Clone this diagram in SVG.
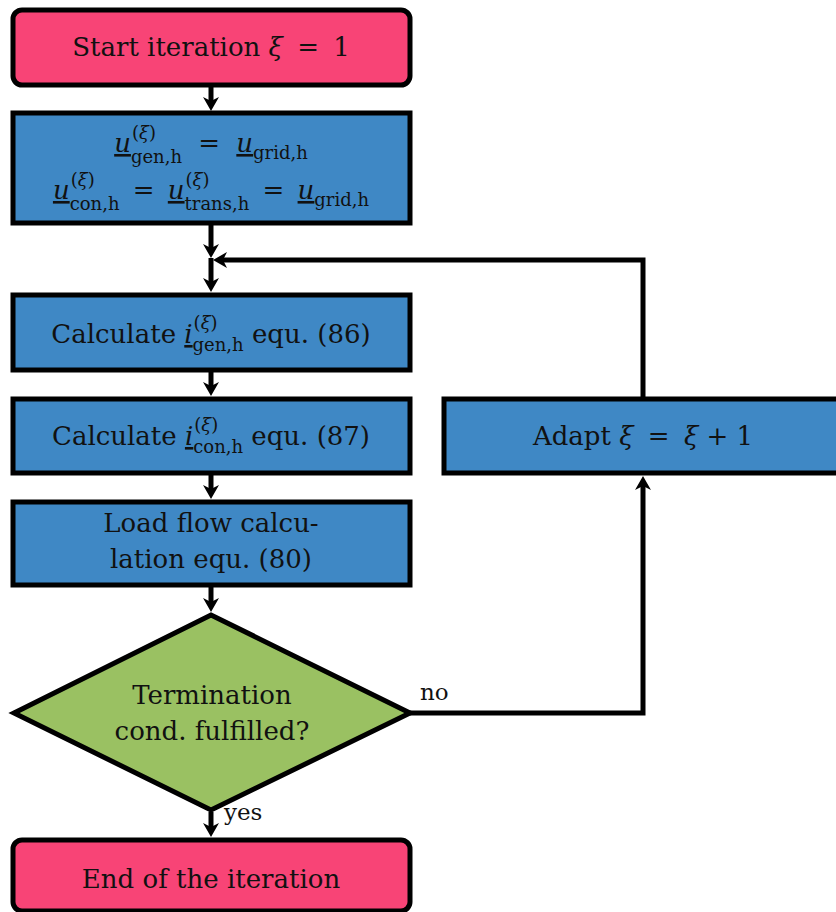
<svg xmlns="http://www.w3.org/2000/svg" width="836" height="912" viewBox="0 0 836 912">
<defs>
<marker id="ah" markerUnits="userSpaceOnUse" viewBox="0 0 14 16" refX="8" refY="8" markerWidth="14" markerHeight="16" orient="auto">
<path d="M0,0 L14,8 L0,16 L4,8 z" fill="#000"/>
</marker>
<style>
.t{font-family:"DejaVu Serif","Liberation Serif",serif;font-size:26px;fill:#111;text-anchor:middle}
.s{font-size:18px}
.m{font-style:italic}
.u{font-style:italic;text-decoration:underline}
.box{stroke:#000;stroke-width:5}
.pink{fill:#F84476}
.blue{fill:#3F88C5}
.green{fill:#9AC162}
.c{fill:none;stroke:#000;stroke-width:5;marker-end:url(#ah)}
.lbl{font-family:"DejaVu Serif","Liberation Serif",serif;font-size:23px;fill:#111}
</style>
</defs>
<rect width="836" height="912" fill="#fff"/>
<g id="connectors">
<path class="c" d="M211,85 V105"/>
<path class="c" d="M211,223 V252"/>
<path class="c" d="M211,258 V286"/>
<path class="c" d="M643,399 V260 H219"/>
<path class="c" d="M211,370 V390"/>
<path class="c" d="M211,473 V493"/>
<path class="c" d="M211,585 V606"/>
<path class="c" d="M410,713 H643 V482"/>
<path class="c" d="M211,812 V831"/>
<text class="lbl" x="420" y="700">no</text>
<text class="lbl" x="224" y="820">yes</text>
</g>
<g id="start">
<rect class="box pink" x="13" y="10" width="397" height="75" rx="9"/>
<text class="t" x="211" y="56">Start iteration <tspan class="m">ξ</tspan><tspan dx="6"> = </tspan><tspan dx="6">1</tspan></text>
</g>
<g id="init">
<rect class="box blue" x="13" y="113" width="397" height="110"/>
<text class="t" x="211" y="152"><tspan class="u">u</tspan><tspan class="s" dx="1" dy="-13">(<tspan class="m">ξ</tspan>)</tspan><tspan class="s" dx="-25" dy="24">gen,h</tspan><tspan dx="8" dy="-11"> = </tspan><tspan dx="8" class="u">u</tspan><tspan class="s" dy="7">grid,h</tspan></text>
<text class="t" x="211" y="199"><tspan class="u">u</tspan><tspan class="s" dx="1" dy="-13">(<tspan class="m">ξ</tspan>)</tspan><tspan class="s" dx="-25" dy="24">con,h</tspan><tspan dx="5" dy="-11"> = </tspan><tspan dx="5" class="u">u</tspan><tspan class="s" dx="1" dy="-13">(<tspan class="m">ξ</tspan>)</tspan><tspan class="s" dx="-25" dy="24">trans,h</tspan><tspan dx="5" dy="-11"> = </tspan><tspan dx="5" class="u">u</tspan><tspan class="s" dy="7">grid,h</tspan></text>
</g>
<g id="calc-gen">
<rect class="box blue" x="13" y="295" width="397" height="75"/>
<text class="t" x="211" y="343">Calculate <tspan class="u">i</tspan><tspan class="s" dx="1" dy="-14">(<tspan class="m">ξ</tspan>)</tspan><tspan class="s" dx="-25" dy="22">gen,h</tspan><tspan dy="-8"> equ. (86)</tspan></text>
</g>
<g id="calc-con">
<rect class="box blue" x="13" y="399" width="397" height="74"/>
<text class="t" x="211" y="445">Calculate <tspan class="u">i</tspan><tspan class="s" dx="1" dy="-14">(<tspan class="m">ξ</tspan>)</tspan><tspan class="s" dx="-25" dy="22">con,h</tspan><tspan dy="-8"> equ. (87)</tspan></text>
</g>
<g id="loadflow">
<rect class="box blue" x="13" y="502" width="397" height="83"/>
<text class="t" x="211" y="532">Load flow calcu-</text>
<text class="t" x="211" y="568">lation equ. (80)</text>
</g>
<g id="decision">
<polygon class="box green" points="211,615 410,713 211,810 14,713"/>
<text class="t" x="212" y="704">Termination</text>
<text class="t" x="212" y="740">cond. fulfilled?</text>
</g>
<g id="end">
<rect class="box pink" x="13" y="840" width="397" height="71" rx="9"/>
<text class="t" x="211" y="888">End of the iteration</text>
</g>
<g id="adapt">
<rect class="box blue" x="444" y="399" width="400" height="74"/>
<text class="t" x="643" y="445">Adapt <tspan class="m">ξ</tspan><tspan dx="6"> = </tspan><tspan dx="6" class="m">ξ</tspan> + 1</text>
</g>
</svg>
